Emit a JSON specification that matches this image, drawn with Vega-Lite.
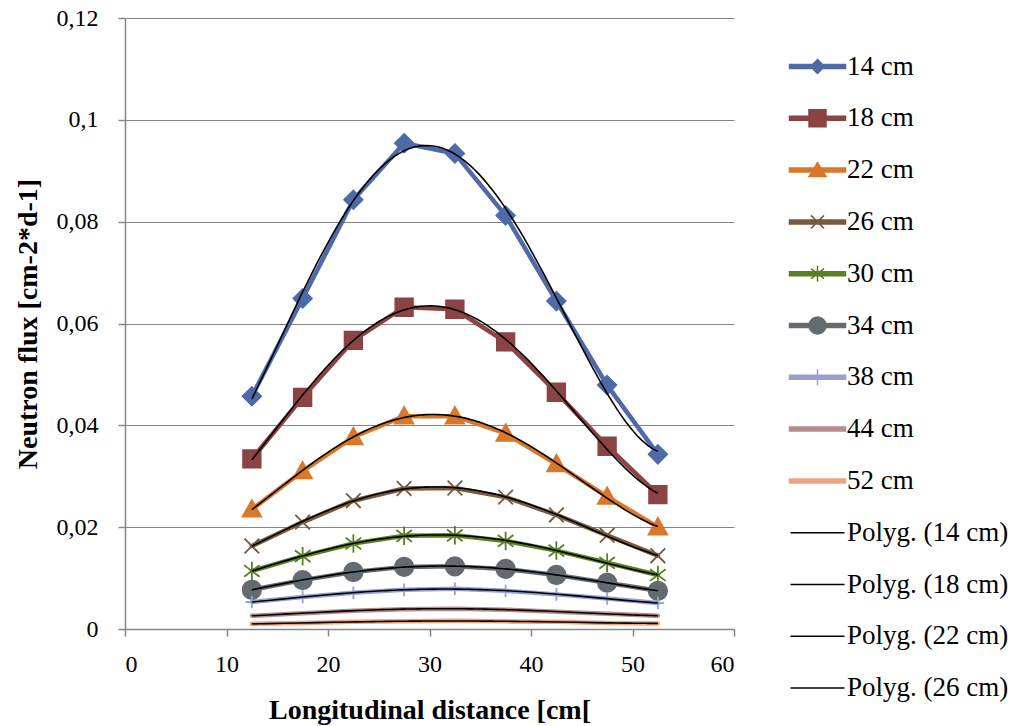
{
  "$schema": "https://vega.github.io/schema/vega-lite/v6.json",
  "width": 609,
  "height": 611,
  "autosize": {"type": "none"},
  "padding": {"left": 125, "top": 18, "right": 283, "bottom": 97},
  "background": "white",
  "config": {
    "view": {"stroke": null},
    "font": "Liberation Serif",
    "axis": {
      "labelFont": "Liberation Serif", "labelFontSize": 24, "labelColor": "black",
      "titleFont": "Liberation Serif", "titleFontSize": 28, "titleFontWeight": "bold", "titleColor": "black",
      "domainColor": "#868686", "domainWidth": 1.5, "tickColor": "#868686", "tickWidth": 1.5, "gridColor": "#868686", "gridWidth": 1.2, "tickSize": 7
    },
    "legend": {"labelFont": "Liberation Serif", "labelFontSize": 27, "labelColor": "black"}
  },
  "data": {"values": [
    {"x":12.5,"flux":0.0457,"series":"14 cm","trend":"Polyg. (14 cm)"},
    {"x":17.5,"flux":0.0649,"series":"14 cm","trend":"Polyg. (14 cm)"},
    {"x":22.5,"flux":0.0843,"series":"14 cm","trend":"Polyg. (14 cm)"},
    {"x":27.5,"flux":0.0954,"series":"14 cm","trend":"Polyg. (14 cm)"},
    {"x":32.5,"flux":0.0934,"series":"14 cm","trend":"Polyg. (14 cm)"},
    {"x":37.5,"flux":0.0812,"series":"14 cm","trend":"Polyg. (14 cm)"},
    {"x":42.5,"flux":0.0644,"series":"14 cm","trend":"Polyg. (14 cm)"},
    {"x":47.5,"flux":0.0479,"series":"14 cm","trend":"Polyg. (14 cm)"},
    {"x":52.5,"flux":0.0343,"series":"14 cm","trend":"Polyg. (14 cm)"},
    {"x":12.5,"flux":0.0334,"series":"18 cm","trend":"Polyg. (18 cm)"},
    {"x":17.5,"flux":0.0455,"series":"18 cm","trend":"Polyg. (18 cm)"},
    {"x":22.5,"flux":0.0567,"series":"18 cm","trend":"Polyg. (18 cm)"},
    {"x":27.5,"flux":0.0632,"series":"18 cm","trend":"Polyg. (18 cm)"},
    {"x":32.5,"flux":0.0628,"series":"18 cm","trend":"Polyg. (18 cm)"},
    {"x":37.5,"flux":0.0564,"series":"18 cm","trend":"Polyg. (18 cm)"},
    {"x":42.5,"flux":0.0465,"series":"18 cm","trend":"Polyg. (18 cm)"},
    {"x":47.5,"flux":0.0359,"series":"18 cm","trend":"Polyg. (18 cm)"},
    {"x":52.5,"flux":0.0264,"series":"18 cm","trend":"Polyg. (18 cm)"},
    {"x":12.5,"flux":0.0235,"series":"22 cm","trend":"Polyg. (22 cm)"},
    {"x":17.5,"flux":0.0310,"series":"22 cm","trend":"Polyg. (22 cm)"},
    {"x":22.5,"flux":0.0377,"series":"22 cm","trend":"Polyg. (22 cm)"},
    {"x":27.5,"flux":0.0418,"series":"22 cm","trend":"Polyg. (22 cm)"},
    {"x":32.5,"flux":0.0418,"series":"22 cm","trend":"Polyg. (22 cm)"},
    {"x":37.5,"flux":0.0384,"series":"22 cm","trend":"Polyg. (22 cm)"},
    {"x":42.5,"flux":0.0324,"series":"22 cm","trend":"Polyg. (22 cm)"},
    {"x":47.5,"flux":0.0260,"series":"22 cm","trend":"Polyg. (22 cm)"},
    {"x":52.5,"flux":0.0200,"series":"22 cm","trend":"Polyg. (22 cm)"},
    {"x":12.5,"flux":0.0163,"series":"26 cm","trend":"Polyg. (26 cm)"},
    {"x":17.5,"flux":0.0210,"series":"26 cm","trend":"Polyg. (26 cm)"},
    {"x":22.5,"flux":0.0252,"series":"26 cm","trend":"Polyg. (26 cm)"},
    {"x":27.5,"flux":0.0276,"series":"26 cm","trend":"Polyg. (26 cm)"},
    {"x":32.5,"flux":0.0277,"series":"26 cm","trend":"Polyg. (26 cm)"},
    {"x":37.5,"flux":0.0259,"series":"26 cm","trend":"Polyg. (26 cm)"},
    {"x":42.5,"flux":0.0224,"series":"26 cm","trend":"Polyg. (26 cm)"},
    {"x":47.5,"flux":0.0184,"series":"26 cm","trend":"Polyg. (26 cm)"},
    {"x":52.5,"flux":0.0144,"series":"26 cm","trend":"Polyg. (26 cm)"},
    {"x":12.5,"flux":0.0114,"series":"30 cm","trend":"Polyg. (30 cm)"},
    {"x":17.5,"flux":0.0143,"series":"30 cm","trend":"Polyg. (30 cm)"},
    {"x":22.5,"flux":0.0168,"series":"30 cm","trend":"Polyg. (30 cm)"},
    {"x":27.5,"flux":0.0183,"series":"30 cm","trend":"Polyg. (30 cm)"},
    {"x":32.5,"flux":0.0184,"series":"30 cm","trend":"Polyg. (30 cm)"},
    {"x":37.5,"flux":0.0173,"series":"30 cm","trend":"Polyg. (30 cm)"},
    {"x":42.5,"flux":0.0154,"series":"30 cm","trend":"Polyg. (30 cm)"},
    {"x":47.5,"flux":0.0130,"series":"30 cm","trend":"Polyg. (30 cm)"},
    {"x":52.5,"flux":0.0106,"series":"30 cm","trend":"Polyg. (30 cm)"},
    {"x":12.5,"flux":0.0077,"series":"34 cm","trend":"Polyg. (34 cm)"},
    {"x":17.5,"flux":0.0096,"series":"34 cm","trend":"Polyg. (34 cm)"},
    {"x":22.5,"flux":0.0112,"series":"34 cm","trend":"Polyg. (34 cm)"},
    {"x":27.5,"flux":0.0122,"series":"34 cm","trend":"Polyg. (34 cm)"},
    {"x":32.5,"flux":0.0123,"series":"34 cm","trend":"Polyg. (34 cm)"},
    {"x":37.5,"flux":0.0118,"series":"34 cm","trend":"Polyg. (34 cm)"},
    {"x":42.5,"flux":0.0106,"series":"34 cm","trend":"Polyg. (34 cm)"},
    {"x":47.5,"flux":0.0091,"series":"34 cm","trend":"Polyg. (34 cm)"},
    {"x":52.5,"flux":0.0075,"series":"34 cm","trend":"Polyg. (34 cm)"},
    {"x":12.5,"flux":0.0053,"series":"38 cm","trend":"Polyg. (38 cm)"},
    {"x":17.5,"flux":0.0063,"series":"38 cm","trend":"Polyg. (38 cm)"},
    {"x":22.5,"flux":0.0071,"series":"38 cm","trend":"Polyg. (38 cm)"},
    {"x":27.5,"flux":0.0077,"series":"38 cm","trend":"Polyg. (38 cm)"},
    {"x":32.5,"flux":0.0079,"series":"38 cm","trend":"Polyg. (38 cm)"},
    {"x":37.5,"flux":0.0075,"series":"38 cm","trend":"Polyg. (38 cm)"},
    {"x":42.5,"flux":0.0068,"series":"38 cm","trend":"Polyg. (38 cm)"},
    {"x":47.5,"flux":0.0060,"series":"38 cm","trend":"Polyg. (38 cm)"},
    {"x":52.5,"flux":0.0051,"series":"38 cm","trend":"Polyg. (38 cm)"},
    {"x":12.5,"flux":0.0026,"series":"44 cm","trend":"Polyg. (44 cm)"},
    {"x":17.5,"flux":0.0031,"series":"44 cm","trend":"Polyg. (44 cm)"},
    {"x":22.5,"flux":0.0036,"series":"44 cm","trend":"Polyg. (44 cm)"},
    {"x":27.5,"flux":0.0039,"series":"44 cm","trend":"Polyg. (44 cm)"},
    {"x":32.5,"flux":0.0040,"series":"44 cm","trend":"Polyg. (44 cm)"},
    {"x":37.5,"flux":0.0038,"series":"44 cm","trend":"Polyg. (44 cm)"},
    {"x":42.5,"flux":0.0034,"series":"44 cm","trend":"Polyg. (44 cm)"},
    {"x":47.5,"flux":0.0030,"series":"44 cm","trend":"Polyg. (44 cm)"},
    {"x":52.5,"flux":0.0026,"series":"44 cm","trend":"Polyg. (44 cm)"},
    {"x":12.5,"flux":0.0010,"series":"52 cm","trend":"Polyg. (52 cm)"},
    {"x":17.5,"flux":0.0012,"series":"52 cm","trend":"Polyg. (52 cm)"},
    {"x":22.5,"flux":0.0014,"series":"52 cm","trend":"Polyg. (52 cm)"},
    {"x":27.5,"flux":0.0015,"series":"52 cm","trend":"Polyg. (52 cm)"},
    {"x":32.5,"flux":0.0016,"series":"52 cm","trend":"Polyg. (52 cm)"},
    {"x":37.5,"flux":0.0015,"series":"52 cm","trend":"Polyg. (52 cm)"},
    {"x":42.5,"flux":0.0014,"series":"52 cm","trend":"Polyg. (52 cm)"},
    {"x":47.5,"flux":0.0012,"series":"52 cm","trend":"Polyg. (52 cm)"},
    {"x":52.5,"flux":0.0011,"series":"52 cm","trend":"Polyg. (52 cm)"}
  ]},
  "encoding": {
    "x": {"field": "x", "type": "quantitative",
      "scale": {"domain": [0, 60], "nice": false, "zero": false},
      "axis": {"title": "Longitudinal distance [cm[", "values": [0,10,20,30,40,50,60], "grid": false, "labelPadding": 16, "titlePadding": 20}},
    "y": {"field": "flux", "type": "quantitative",
      "scale": {"domain": [0, 0.12], "nice": false},
      "axis": {"title": "Neutron flux [cm-2*d-1]", "values": [0,0.02,0.04,0.06,0.08,0.1,0.12], "grid": true, "labelPadding": 20, "titlePadding": 14,
        "labelExpr": "replace(format(datum.value, '~g'), '.', ',')"}}
  },
  "layer": [
    {
      "mark": {"type": "line", "strokeWidth": 4.5, "strokeCap": "round", "strokeJoin": "round"},
      "encoding": {
        "color": {"field": "series", "type": "nominal",
          "scale": {
            "domain": ["14 cm","18 cm","22 cm","26 cm","30 cm","34 cm","38 cm","44 cm","52 cm","Polyg. (14 cm)","Polyg. (18 cm)","Polyg. (22 cm)","Polyg. (26 cm)","Polyg. (30 cm)","Polyg. (34 cm)","Polyg. (38 cm)","Polyg. (44 cm)","Polyg. (52 cm)"],
            "range": ["#4f6aa8","#8c4343","#d9772a","#785a3e","#5a7f22","#636b71","#97a1d0","#b78b8b","#eda47d","#000000","#000000","#000000","#000000","#000000","#000000","#000000","#000000","#000000"]
          },
          "legend": {
            "title": null,
            "orient": "none",
            "legendX": 679,
            "legendY": 35,
            "direction": "vertical",
            "values": ["14 cm","18 cm","22 cm","26 cm","30 cm","34 cm","38 cm","44 cm","52 cm","Polyg. (14 cm)","Polyg. (18 cm)","Polyg. (22 cm)","Polyg. (26 cm)"],
            "symbolSize": 400,
            "labelOffset": 16,
            "rowPadding": 23.8,
            "labelFontSize": 27,
            "labelLimit": 300,
            "encode": {
              "symbols": {
                "update": {
                  "shape": {"signal": "['M-2.8,-0.2H2.8V0.2H-2.8ZM0,-0.7L0.7,0L0,0.7L-0.7,0Z','M-2.8,-0.2H2.8V0.2H-2.8ZM-0.85,-0.85H0.85V0.85H-0.85Z','M-2.8,-0.2H2.8V0.2H-2.8ZM0,-0.75L0.85,0.65H-0.85Z','M-2.8,-0.2H2.8V0.2H-2.8ZM-0.65,-0.65L0.65,0.65M-0.65,0.65L0.65,-0.65','M-2.8,-0.2H2.8V0.2H-2.8ZM-0.65,-0.5L0.65,0.5M-0.65,0.5L0.65,-0.5M0,-0.8V0.8','M-2.8,-0.2H2.8V0.2H-2.8ZM-0.85,0A0.85,0.85 0 1,1 0.85,0A0.85,0.85 0 1,1 -0.85,0Z','M-2.8,-0.2H2.8V0.2H-2.8ZM0,-0.8V0.8','M-2.8,-0.2H2.8V0.2H-2.8Z','M-2.8,-0.2H2.8V0.2H-2.8Z','M-2.7,0H2.7','M-2.7,0H2.7','M-2.7,0H2.7','M-2.7,0H2.7'][indexof(['14 cm','18 cm','22 cm','26 cm','30 cm','34 cm','38 cm','44 cm','52 cm','Polyg. (14 cm)','Polyg. (18 cm)','Polyg. (22 cm)','Polyg. (26 cm)'], datum.value)]"},
                  "fill": {"scale": "color", "field": "value"},
                  "stroke": {"scale": "color", "field": "value"},
                  "strokeWidth": {"value": 1.5},
                  "size": {"value": 400},
                  "opacity": {"value": 1}
                }
              }
            }
          }
        }
      }
    },
    {
      "transform": [{"filter": "datum.series != '44 cm' && datum.series != '52 cm'"}],
      "mark": {"type": "point", "size": 380, "strokeWidth": 1.8, "opacity": 1},
      "encoding": {
        "shape": {"field": "series", "type": "nominal", "legend": null,
          "scale": {"domain": ["14 cm","18 cm","22 cm","26 cm","30 cm","34 cm","38 cm"],
            "range": ["M0,-0.95L0.95,0L0,0.95L-0.95,0Z","M-0.9,-0.9H0.9V0.9H-0.9Z","M0,-0.95L0.95,0.75H-0.95Z","M-0.75,-0.75L0.75,0.75M-0.75,0.75L0.75,-0.75","M-0.8,-0.6L0.8,0.6M-0.8,0.6L0.8,-0.6M0,-0.95V0.95","M-0.95,0A0.95,0.95 0 1,1 0.95,0A0.95,0.95 0 1,1 -0.95,0Z","M-0.65,0H0.65M0,-0.65V0.65"]}},
        "fill": {"field": "series", "type": "nominal", "legend": null,
          "scale": {"domain": ["14 cm","18 cm","22 cm","26 cm","30 cm","34 cm","38 cm"],
            "range": ["#4f6aa8","#8c4343","#d9772a","#785a3e","#5a7f22","#636b71","#97a1d0"]}},
        "stroke": {"field": "series", "type": "nominal", "legend": null,
          "scale": {"domain": ["14 cm","18 cm","22 cm","26 cm","30 cm","34 cm","38 cm"],
            "range": ["#4f6aa8","#8c4343","#d9772a","#785a3e","#5a7f22","#636b71","#97a1d0"]}}
      }
    },
    {
      "transform": [{"regression": "flux", "on": "x", "groupby": ["trend"], "method": "poly", "order": 4}],
      "mark": {"type": "line", "strokeWidth": 1.6},
      "encoding": {
        "color": {"field": "trend", "type": "nominal",
          "scale": {
            "domain": ["14 cm","18 cm","22 cm","26 cm","30 cm","34 cm","38 cm","44 cm","52 cm","Polyg. (14 cm)","Polyg. (18 cm)","Polyg. (22 cm)","Polyg. (26 cm)","Polyg. (30 cm)","Polyg. (34 cm)","Polyg. (38 cm)","Polyg. (44 cm)","Polyg. (52 cm)"],
            "range": ["#4f6aa8","#8c4343","#d9772a","#785a3e","#5a7f22","#636b71","#97a1d0","#b78b8b","#eda47d","#000000","#000000","#000000","#000000","#000000","#000000","#000000","#000000","#000000"]
          }
        }
      }
    }
  ]
}
